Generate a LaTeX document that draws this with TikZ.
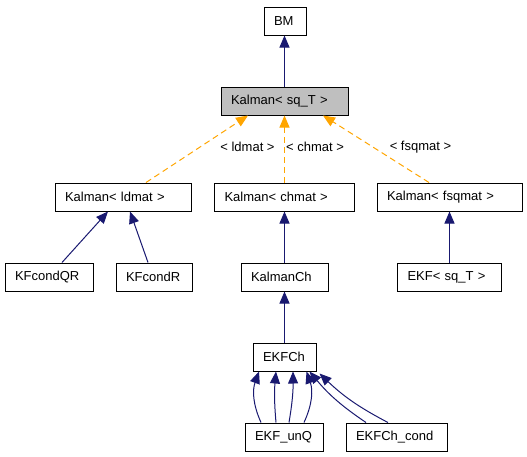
\documentclass[tikz,border=0pt]{standalone}
\usepackage{fontspec}
\setmainfont{Liberation Sans}
\usetikzlibrary{arrows.meta}

\definecolor{inhblue}{RGB}{25,25,112}
\definecolor{tplorange}{RGB}{255,165,0}
\definecolor{selgray}{RGB}{191,191,191}

\begin{document}
\begin{tikzpicture}[x=1pt,y=-1pt]
\tikzstyle{every node}+=[inner sep=0pt, font=\fontsize{13}{15}\selectfont]
\tikzstyle{cls}=[draw=black, line width=1pt, fill=white, minimum height=28pt, inner xsep=10pt, align=left]
\tikzstyle{lbl}=[text=black]
\tikzstyle{inh}=[draw=inhblue, line width=1pt, -{Triangle[length=12pt,width=10pt]}]
\tikzstyle{tpl}=[draw=tplorange, line width=1pt, dash pattern=on 6pt off 4pt, -{Triangle[length=12pt,width=10pt]}]
\useasboundingbox (0,0) rectangle (527,456);
% classes
\node [cls, minimum width=42pt, text width=22pt] (BM) at (285,21) {BM};
\node [cls, fill=selgray, minimum width=127pt, text width=107pt] (Ksq) at (284.5,101) {Kalman< sq\_T >};
\node [cls, minimum width=136pt, text width=116pt] (Kld) at (123,197) {Kalman< ldmat >};
\node [cls, minimum width=140pt, text width=120pt] (Kch) at (284.5,197) {Kalman< chmat >};
\node [cls, minimum width=145pt, text width=125pt] (Kfsq) at (449.5,197) {Kalman< fsqmat >};
\node [cls, minimum width=88pt, text width=68pt] (KFcondQR) at (49,277) {KFcondQR};
\node [cls, minimum width=76pt, text width=56pt] (KFcondR) at (154,277) {KFcondR};
\node [cls, minimum width=87pt, text width=67pt] (KalmanCh) at (284.5,277) {KalmanCh};
\node [cls, minimum width=104pt, text width=84pt] (EKFsq) at (449.5,277) {EKF< sq\_T >};
\node [cls, minimum width=63pt, text width=43pt] (EKFCh) at (284.5,357) {EKFCh};
\node [cls, minimum width=78pt, text width=58pt] (EKFunQ) at (284,437) {EKF\_unQ};
\node [cls, minimum width=101pt, text width=81pt] (EKFChcond) at (396.5,437) {EKFCh\_cond};
% template instances
\draw [tpl] ([xshift=23pt]Kld.north) -- ([xshift=-36.5pt]Ksq.south);
\draw [tpl] (Kch.north) -- (Kch.north |- Ksq.south);
\draw [tpl] ([xshift=-20.5pt]Kfsq.north) -- ([xshift=38.5pt]Ksq.south);
\node [lbl] (Lld) at (247.5,147) {< ldmat >};
\node [lbl] (Lch) at (315,147) {< chmat >};
\node [lbl] (Lfsq) at (420.5,147) {< fsqmat >};
% inheritance
\draw [inh] (Ksq.north) -- (Ksq.north |- BM.south);
\draw [inh] ([xshift=13pt]KFcondQR.north) -- ([xshift=-15pt]Kld.south);
\draw [inh] ([xshift=-6pt]KFcondR.north) -- ([xshift=7pt]Kld.south);
\draw [inh] (KalmanCh.north) -- (KalmanCh.north |- Kch.south);
\draw [inh] (EKFsq.north) -- (EKFsq.north |- Kfsq.south);
\draw [inh] (EKFCh.north) -- (EKFCh.north |- KalmanCh.south);
\draw [inh] ([xshift=-23pt]EKFunQ.north) to[bend left=22] ([xshift=-25.5pt]EKFCh.south);
\draw [inh] ([xshift=-8pt]EKFunQ.north) to[bend left=5] ([xshift=-8.5pt]EKFCh.south);
\draw [inh] ([xshift=5pt]EKFunQ.north) to[bend right=5] ([xshift=8.5pt]EKFCh.south);
\draw [inh] ([xshift=20pt]EKFunQ.north) to[bend right=22] ([xshift=22pt]EKFCh.south);
\draw [inh] ([xshift=-30.5pt]EKFChcond.north) to[bend left=8] ([xshift=-7pt]EKFCh.south east);
\draw [inh] ([xshift=-8.5pt]EKFChcond.north) to[bend left=8] ([xshift=3pt,yshift=-2pt]EKFCh.south east);
\end{tikzpicture}
\end{document}
